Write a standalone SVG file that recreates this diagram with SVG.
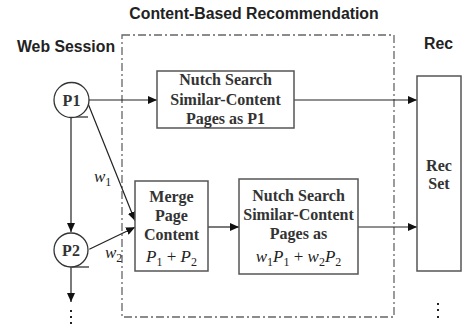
<svg xmlns="http://www.w3.org/2000/svg" width="462" height="324" viewBox="0 0 462 324">
<defs>
<marker id="arr" markerUnits="userSpaceOnUse" markerWidth="9" markerHeight="8" viewBox="0 0 9 8" refX="9" refY="4" orient="auto">
<path d="M0,0 L9,4 L0,8 z" fill="#111"/>
</marker>
<style>
.lbl{font-family:"Liberation Sans",Arial,sans-serif;font-weight:bold;font-size:15.8px;fill:#222}
.bt{font-family:"Liberation Serif","Times New Roman",serif;font-weight:bold;font-size:16px;fill:#333;text-anchor:middle}
.m{font-family:"Liberation Serif","Times New Roman",serif;font-style:italic;font-size:17px;fill:#222}
.s{font-family:"Liberation Serif","Times New Roman",serif;font-size:12px;fill:#222;font-style:normal}
.box{fill:#fff;stroke:#555;stroke-width:1.5}
.ln{stroke:#222;stroke-width:1.2;fill:none}
.dot{fill:#222}
</style>
</defs>
<rect width="462" height="324" fill="#fff"/>
<text class="lbl" x="254" y="19" text-anchor="middle">Content-Based Recommendation</text>
<text class="lbl" x="17" y="52">Web Session</text>
<text class="lbl" x="424" y="49">Rec</text>
<rect id="region" x="122" y="35" width="272" height="282" fill="none" stroke="#666" stroke-width="1.3" stroke-dasharray="8,3,2,3"/>
<g id="connectors">
<line class="ln" x1="71" y1="117" x2="71" y2="232" marker-end="url(#arr)"/>
<line class="ln" x1="72" y1="117" x2="88" y2="117"/>
<line class="ln" x1="71" y1="267" x2="71" y2="302" marker-end="url(#arr)"/>
<line class="ln" x1="72" y1="267" x2="89" y2="267"/>
<line class="ln" x1="89" y1="100" x2="157" y2="100" marker-end="url(#arr)"/>
<line class="ln" x1="294" y1="100" x2="417" y2="100" marker-end="url(#arr)"/>
<line class="ln" x1="87.3" y1="101.7" x2="135" y2="220.7" marker-end="url(#arr)"/>
<line class="ln" x1="89.3" y1="249.3" x2="135" y2="227.3" marker-end="url(#arr)"/>
<line class="ln" x1="208" y1="227" x2="239" y2="227" marker-end="url(#arr)"/>
<line class="ln" x1="358" y1="227" x2="417" y2="227" marker-end="url(#arr)"/>
</g>
<g id="P1">
<circle cx="71.5" cy="100" r="17.5" fill="#fff" stroke="#333" stroke-width="1.3"/>
<text class="bt" x="71.5" y="105.5">P1</text>
</g>
<g id="P2">
<circle cx="71" cy="250" r="17" fill="#fff" stroke="#333" stroke-width="1.3"/>
<text class="bt" x="71" y="255.5">P2</text>
</g>
<g id="w1"><text class="m" x="94" y="182">w<tspan class="s" dy="4">1</tspan></text></g>
<g id="w2"><text class="m" x="105" y="258">w<tspan class="s" dy="4">2</tspan></text></g>
<g id="search1">
<rect class="box" x="157" y="71" width="137" height="57"/>
<text class="bt" x="225.5" y="85">Nutch Search</text>
<text class="bt" x="225.5" y="104.5">Similar-Content</text>
<text class="bt" x="225.5" y="123.5">Pages as P1</text>
</g>
<g id="merge">
<rect class="box" x="135" y="181" width="73" height="90"/>
<text class="bt" x="171.5" y="202">Merge</text>
<text class="bt" x="171.5" y="221">Page</text>
<text class="bt" x="171.5" y="240">Content</text>
<text class="m" x="171.5" y="262" text-anchor="middle">P<tspan class="s" dy="4">1</tspan><tspan dy="-4" font-style="normal"> + </tspan>P<tspan class="s" dy="4">2</tspan></text>
</g>
<g id="search2">
<rect class="box" x="239" y="179" width="119" height="95"/>
<text class="bt" x="298.5" y="201">Nutch Search</text>
<text class="bt" x="298.5" y="220">Similar-Content</text>
<text class="bt" x="298.5" y="239">Pages as</text>
<text class="m" x="298.5" y="262" text-anchor="middle">w<tspan class="s" dy="4">1</tspan><tspan dy="-4">P</tspan><tspan class="s" dy="4">1</tspan><tspan dy="-4" font-style="normal"> + </tspan>w<tspan class="s" dy="4">2</tspan><tspan dy="-4">P</tspan><tspan class="s" dy="4">2</tspan></text>
</g>
<g id="recset">
<rect class="box" x="417" y="76" width="44" height="195"/>
<text class="bt" x="439" y="171">Rec</text>
<text class="bt" x="439" y="189">Set</text>
</g>
<g id="dots">
<rect class="dot" x="70" y="310" width="2" height="2"/>
<rect class="dot" x="70" y="316" width="2" height="2"/>
<rect class="dot" x="70" y="322" width="2" height="2"/>
<rect class="dot" x="437" y="303" width="2" height="2"/>
<rect class="dot" x="437" y="309" width="2" height="2"/>
<rect class="dot" x="437" y="316" width="2" height="2"/>
</g>
</svg>
